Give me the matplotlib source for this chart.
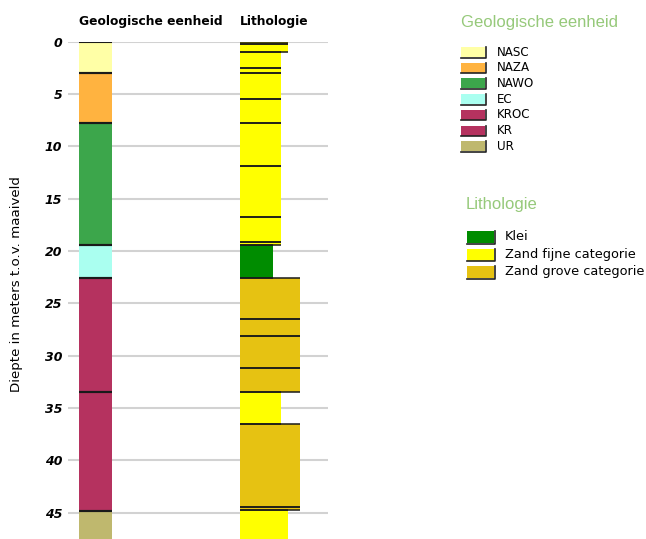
import matplotlib
matplotlib.use("Agg")
import matplotlib.pyplot as plt
from matplotlib.patches import Rectangle

# geologische eenheden (diepte in m t.o.v. maaiveld)
geo_units = ["NASC", "NAZA", "NAWO", "EC", "KROC", "KR", "UR"]
geo_top = [0.0, 3.0, 7.8, 19.4, 22.6, 33.5, 44.85]
geo_bottom = [3.0, 7.8, 19.4, 22.6, 33.5, 44.85, 48.0]
geo_colors = ["#ffffa6", "#ffb340", "#3ca64b", "#aafff0", "#b5325f", "#b5325f", "#bfb86e"]

# lithologie
litho_names = ["Klei", "Zand fijne categorie", "Zand grove categorie"]
litho_colors = ["#008c00", "#ffff00", "#e6c212"]
litho_top = [0.0, 0.2, 1.0, 2.5, 3.0, 5.5, 7.8, 11.85, 16.7, 19.1,
             19.45, 22.6, 26.5, 28.1, 31.2, 33.5, 36.5, 44.4, 44.7]
litho_bottom = [0.2, 1.0, 2.5, 3.0, 5.5, 7.8, 11.85, 16.7, 19.1, 19.45,
                22.6, 26.5, 28.1, 31.2, 33.5, 36.5, 44.4, 44.7, 48.0]
litho_type = [1, 1, 1, 1, 1, 1, 1, 1, 1, 1,
              0, 2, 2, 2, 2, 1, 2, 2, 1]
litho_width = [48, 48, 41, 41, 41, 41, 41, 41, 41, 41,
               33, 60, 60, 60, 60, 41, 60, 60, 48]

depth_ticks = [0, 5, 10, 15, 20, 25, 30, 35, 40, 45]

W, H = 646, 539
fig = plt.figure(figsize=(W / 100, H / 100), dpi=100)
ax = fig.add_axes([68 / W, 0, 260 / W, 1 - 41.7 / H])
ax.set_xlim(0, 260)
ax.set_ylim(47.5, 0)

for d in depth_ticks:
    ax.axhline(d, color="#d2d2d2", lw=1.5, zorder=0)

geo_x, geo_w = 11, 33
for t, b, c in zip(geo_top, geo_bottom, geo_colors):
    ax.bar(geo_x, b - t, bottom=t, width=geo_w, align="edge", color=c, zorder=2)
    ax.hlines([t, b], geo_x, geo_x + geo_w, colors="#1a1a1a", lw=1.5, zorder=3)

lit_x = 172
for t, b, k, w in zip(litho_top, litho_bottom, litho_type, litho_width):
    ax.bar(lit_x, b - t, bottom=t, width=w, align="edge", color=litho_colors[k], zorder=2)
    ax.hlines([t, b], lit_x, lit_x + w, colors="#1a1a1a", lw=1.1, zorder=3)

ax.set_yticks(depth_ticks)
ax.set_yticklabels([str(d) for d in depth_ticks], fontsize=9, fontweight="bold", style="italic")
ax.tick_params(axis="y", length=0, pad=4)
ax.set_xticks([])
for s in ax.spines.values():
    s.set_visible(False)

fig.text(79 / W, 1 - 21 / H, "Geologische eenheid", fontsize=8.8, fontweight="bold", va="center")
fig.text(240 / W, 1 - 21 / H, "Lithologie", fontsize=8.8, fontweight="bold", va="center")
fig.text(17 / W, 1 - 284 / H, "Diepte in meters t.o.v. maaiveld", fontsize=9.6,
         rotation=90, ha="center", va="center")

# legenda's in pixelcoordinaten
lg = fig.add_axes([0, 0, 1, 1])
lg.set_xlim(0, W)
lg.set_ylim(H, 0)
lg.axis("off")

title_color = "#96c97a"
lg.text(461, 22, "Geologische eenheid", fontsize=12, family="Liberation Sans",
        color=title_color, va="center")
for i, (name, c) in enumerate(zip(geo_units, geo_colors)):
    y = 52 + i * 15.7
    lg.add_patch(Rectangle((461, y - 5), 24, 10, facecolor=c, edgecolor="none"))
    lg.plot([461, 485.5, 485.5], [y + 5.5, y + 5.5, y - 5], color="#222222", lw=1.2)
    lg.text(497, y, name, fontsize=8.6, va="center")

lg.text(466, 205, "Lithologie", fontsize=12, family="Liberation Sans",
        color=title_color, va="center")
for i, (name, c) in enumerate(zip(litho_names, litho_colors)):
    y = 237 + i * 17.5
    lg.add_patch(Rectangle((467, y - 6), 27, 12, facecolor=c, edgecolor="none"))
    lg.plot([467, 494.5, 494.5], [y + 6.5, y + 6.5, y - 6], color="#222222", lw=1.2)
    lg.text(505, y, name, fontsize=9.3, va="center")

fig.savefig("out.png", dpi=100)
